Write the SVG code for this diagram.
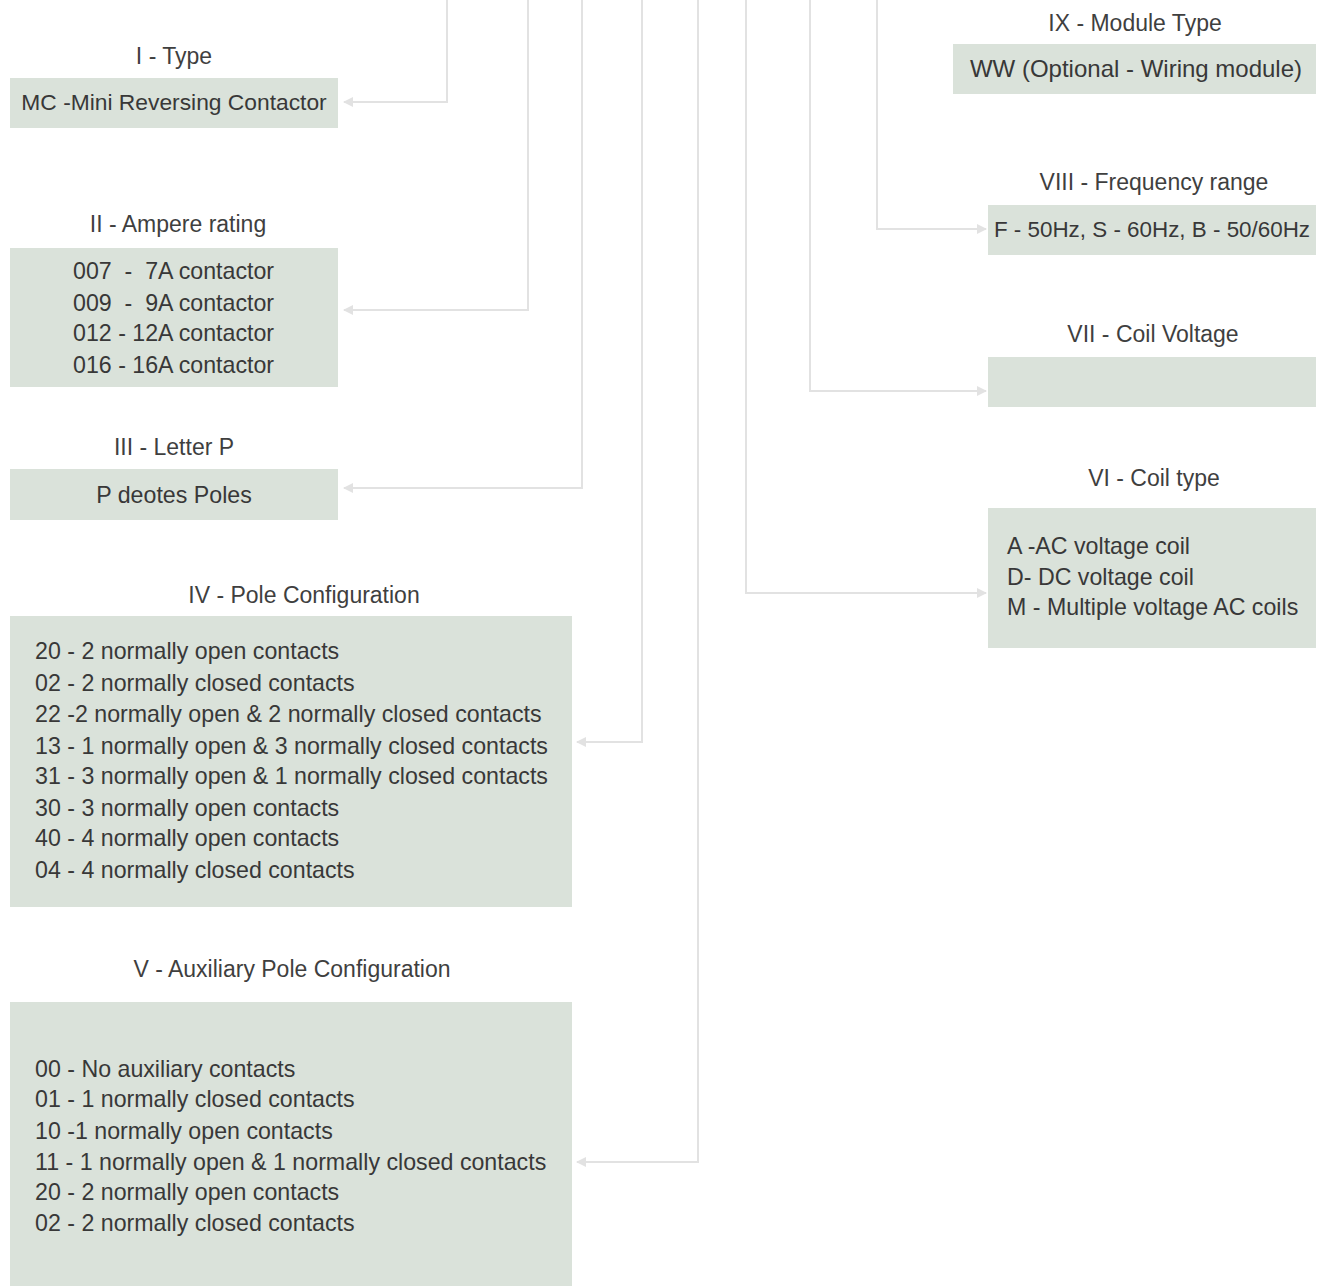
<svg xmlns="http://www.w3.org/2000/svg" width="1324" height="1286" viewBox="0 0 1324 1286">
  <style>
    .box { fill: #dae2da; }
    .title { font-family: "Liberation Sans", Arial, sans-serif; font-size: 23px; fill: #3f3f3f; text-anchor: middle; }
    .item { font-family: "Liberation Sans", Arial, sans-serif; font-size: 23.2px; fill: #383838; white-space: pre; }
    .mid { text-anchor: middle; }
    .wire { fill: none; stroke: #e2e2e2; stroke-width: 2; }
  </style>
  <defs>
    <marker id="arrow" viewBox="0 0 10 10" refX="9" refY="5" markerWidth="10" markerHeight="10" markerUnits="userSpaceOnUse" orient="auto">
      <path d="M0,0 L10,5 L0,10 Z" fill="#e2e2e2"/>
    </marker>
  </defs>
  <rect width="1324" height="1286" fill="#ffffff"/>

  <!-- connectors from the code segments above -->
  <g id="connectors">
    <path class="wire" d="M447,0 V102 H344" marker-end="url(#arrow)"/>
    <path class="wire" d="M528,0 V310 H344" marker-end="url(#arrow)"/>
    <path class="wire" d="M582,0 V488 H344" marker-end="url(#arrow)"/>
    <path class="wire" d="M642,0 V742 H577" marker-end="url(#arrow)"/>
    <path class="wire" d="M698,0 V1162 H577" marker-end="url(#arrow)"/>
    <path class="wire" d="M746,0 V593 H986" marker-end="url(#arrow)"/>
    <path class="wire" d="M810,0 V391 H986" marker-end="url(#arrow)"/>
    <path class="wire" d="M877,0 V229 H986" marker-end="url(#arrow)"/>
  </g>

  <!-- I - Type -->
  <g id="type">
    <text class="title" x="174" y="64">I - Type</text>
    <rect class="box" x="10" y="78" width="328" height="50"/>
    <text class="item mid" x="174" y="110" style="font-size:22.8px">MC -Mini Reversing Contactor</text>
  </g>

  <!-- II - Ampere rating -->
  <g id="ampere-rating">
    <text class="title" x="178" y="232">II - Ampere rating</text>
    <rect class="box" x="10" y="248" width="328" height="139"/>
    <text class="item" x="73" y="279">007  -  7A contactor</text>
    <text class="item" x="73" y="311">009  -  9A contactor</text>
    <text class="item" x="73" y="341">012 - 12A contactor</text>
    <text class="item" x="73" y="373">016 - 16A contactor</text>
  </g>

  <!-- III - Letter P -->
  <g id="letter-p">
    <text class="title" x="174" y="455">III - Letter P</text>
    <rect class="box" x="10" y="469" width="328" height="51"/>
    <text class="item mid" x="174" y="503">P deotes Poles</text>
  </g>

  <!-- IV - Pole Configuration -->
  <g id="pole-configuration">
    <text class="title" x="304" y="603">IV - Pole Configuration</text>
    <rect class="box" x="10" y="616" width="562" height="291"/>
    <text class="item" x="35" y="659">20 - 2 normally open contacts</text>
    <text class="item" x="35" y="691">02 - 2 normally closed contacts</text>
    <text class="item" x="35" y="722">22 -2 normally open &amp; 2 normally closed contacts</text>
    <text class="item" x="35" y="754">13 - 1 normally open &amp; 3 normally closed contacts</text>
    <text class="item" x="35" y="784">31 - 3 normally open &amp; 1 normally closed contacts</text>
    <text class="item" x="35" y="816">30 - 3 normally open contacts</text>
    <text class="item" x="35" y="846">40 - 4 normally open contacts</text>
    <text class="item" x="35" y="878">04 - 4 normally closed contacts</text>
  </g>

  <!-- V - Auxiliary Pole Configuration -->
  <g id="auxiliary-pole-configuration">
    <text class="title" x="292" y="977">V - Auxiliary Pole Configuration</text>
    <rect class="box" x="10" y="1002" width="562" height="284"/>
    <text class="item" x="35" y="1077">00 - No auxiliary contacts</text>
    <text class="item" x="35" y="1107">01 - 1 normally closed contacts</text>
    <text class="item" x="35" y="1139">10 -1 normally open contacts</text>
    <text class="item" x="35" y="1170">11 - 1 normally open &amp; 1 normally closed contacts</text>
    <text class="item" x="35" y="1200">20 - 2 normally open contacts</text>
    <text class="item" x="35" y="1231">02 - 2 normally closed contacts</text>
  </g>

  <!-- IX - Module Type -->
  <g id="module-type">
    <text class="title" x="1135" y="31">IX - Module Type</text>
    <rect class="box" x="953" y="44" width="363" height="50"/>
    <text class="item mid" x="1136" y="77" style="font-size:24px">WW (Optional - Wiring module)</text>
  </g>

  <!-- VIII - Frequency range -->
  <g id="frequency-range">
    <text class="title" x="1154" y="190">VIII - Frequency range</text>
    <rect class="box" x="988" y="205" width="328" height="50"/>
    <text class="item mid" x="1152" y="237" style="font-size:22.4px">F - 50Hz, S - 60Hz, B - 50/60Hz</text>
  </g>

  <!-- VII - Coil Voltage -->
  <g id="coil-voltage">
    <text class="title" x="1153" y="342">VII - Coil Voltage</text>
    <rect class="box" x="988" y="357" width="328" height="50"/>
  </g>

  <!-- VI - Coil type -->
  <g id="coil-type">
    <text class="title" x="1154" y="486">VI - Coil type</text>
    <rect class="box" x="988" y="508" width="328" height="140"/>
    <text class="item" x="1007" y="554">A -AC voltage coil</text>
    <text class="item" x="1007" y="585">D- DC voltage coil</text>
    <text class="item" x="1007" y="615">M - Multiple voltage AC coils</text>
  </g>
</svg>
